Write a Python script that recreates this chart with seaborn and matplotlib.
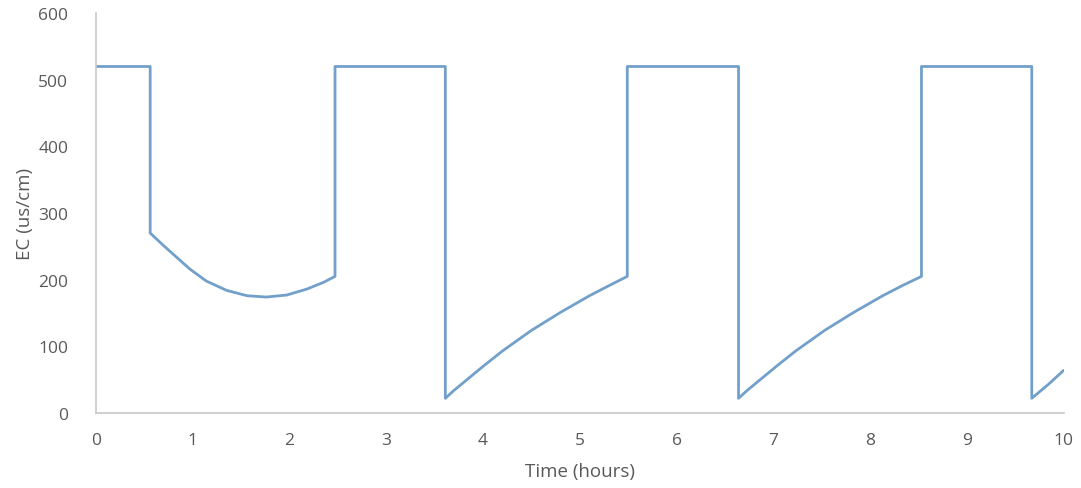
import numpy as np
import pandas as pd
import seaborn as sns
import matplotlib.pyplot as plt

# time (hours) and EC (us/cm)
hours = [0.0, 0.56,
         0.56, 0.70, 0.80, 0.97, 1.14, 1.35, 1.56, 1.76, 1.97, 2.18, 2.35, 2.47,
         2.47, 3.61,
         3.61, 3.70, 3.80, 4.00, 4.20, 4.50, 4.80, 5.10, 5.30, 5.49,
         5.49, 6.64,
         6.64, 6.73, 6.83, 7.03, 7.23, 7.53, 7.83, 8.13, 8.33, 8.53,
         8.53, 9.67,
         9.67, 9.85, 10.0]
ec = [520, 520,
      270, 251, 238, 216, 198, 184, 176, 174, 177, 186, 196, 205,
      520, 520,
      22, 34, 46, 70, 93, 124, 151, 176, 191, 205,
      520, 520,
      22, 34, 46, 70, 93, 124, 151, 176, 191, 205,
      520, 520,
      22, 44, 64]

df = pd.DataFrame({"Time (hours)": hours, "EC (us/cm)": ec})

sns.set_theme(style="white")
plt.rcParams["font.family"] = ["Open Sans", "DejaVu Sans"]

fig = plt.figure(figsize=(10.81, 4.89), dpi=100)
ax = fig.add_axes([0.0888, 0.1534, 0.8952, 0.8176])

sns.lineplot(data=df, x="Time (hours)", y="EC (us/cm)", sort=False,
             estimator=None, color="#72a0ca", linewidth=2.0, ax=ax)

ax.set_xlim(0, 10)
ax.set_ylim(0, 600)
ax.set_xticks(range(0, 11))
ax.set_yticks(range(0, 601, 100))
ax.tick_params(axis="both", length=0, labelsize=12.5, labelcolor="#595959")
ax.tick_params(axis="x", pad=14)
ax.tick_params(axis="y", pad=20)
ax.set_xlabel("Time (hours)", fontsize=13.5, color="#595959", labelpad=10)
ax.set_ylabel("EC (us/cm)", fontsize=13.5, color="#595959", labelpad=3)

for side in ["top", "right"]:
    ax.spines[side].set_visible(False)
for side in ["left", "bottom"]:
    ax.spines[side].set_color("#c8c8c8")
    ax.spines[side].set_linewidth(1.2)

plt.savefig("out.png", dpi=100)
